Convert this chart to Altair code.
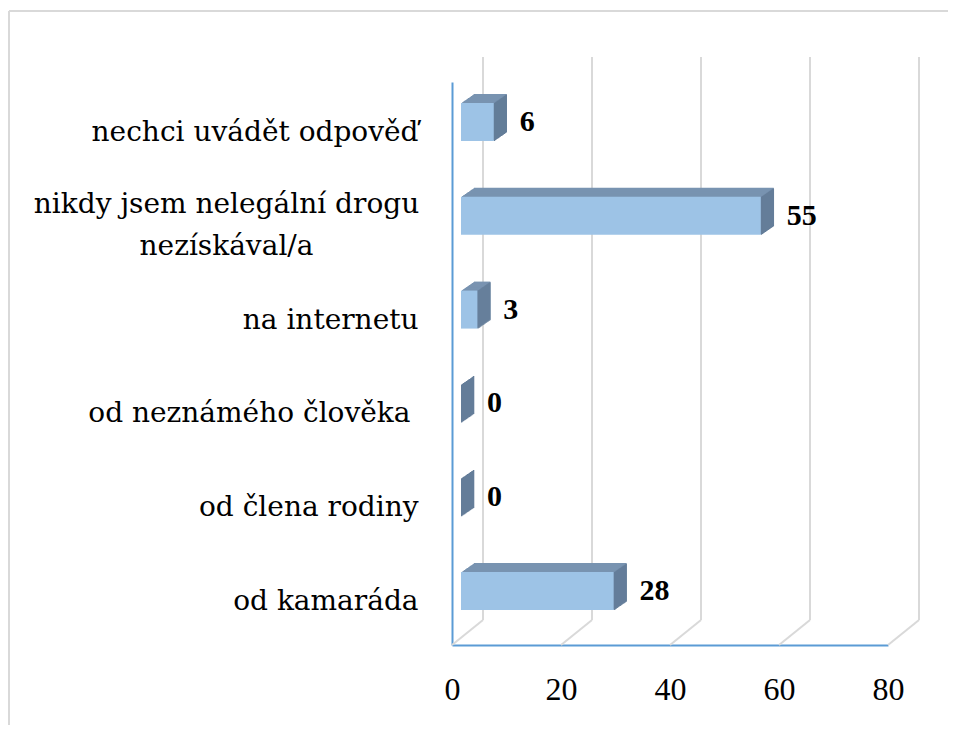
import altair as alt
import pandas as pd

categories = [
    "nechci uvádět odpověď",
    "nikdy jsem nelegální drogu|nezískával/a",
    "na internetu",
    "od neznámého člověka ",
    "od člena rodiny",
    "od kamaráda",
]
values = [6, 55, 3, 0, 0, 28]
ticks = [0, 20, 40, 60, 80]

df = pd.DataFrame({"cat": categories, "value": values})
tick_df = pd.DataFrame({"t": ticks})

W, H = 436, 563
DXB, DYB = 31, -25          # back wall offset
BDX, BDY = 9, -7            # bar plane offset
DEPX, DEPY, STEPS = 13, 9, 13

FRONT = "#9DC3E6"
TOP = "#7993B1"
SIDE = "#647D99"
GRID = "#D9D9D9"
AXIS = "#5B9BD5"

xscale = alt.Scale(domain=[0, 80], nice=False, zero=True)
yscale = alt.Scale(domain=categories, paddingInner=0, paddingOuter=0)

MULTI = "indexof(datum.value, '|') >= 0"
TRAIL = "indexof(datum.value, 'neznámého') >= 0"

XAXIS = alt.Axis(values=ticks, grid=False, ticks=False, domainColor=AXIS, domainWidth=2,
                 labelFont="Liberation Serif", labelFontSize=32, labelColor="black",
                 labelPadding=29, labelFlush=False, labelOverlap=False, title=None)
YAXIS = alt.Axis(grid=False, ticks=False, domainColor=AXIS, domainWidth=2,
                 labelFont="DejaVu Serif", labelFontSize=28, labelColor="black",
                 labelLimit=600, labelLineHeight=42,
                 labelAlign={"condition": {"test": MULTI, "value": "center"}, "value": "right"},
                 labelPadding={"condition": [{"test": MULTI, "value": 226},
                                             {"test": TRAIL, "value": 42}], "value": 34},
                 labelOffset={"condition": {"test": MULTI, "value": -18}, "value": 4},
                 labelExpr="split(datum.label, '|')", title=None)

def y_enc():
    return alt.Y("cat:N", scale=yscale, sort=categories, title=None, axis=YAXIS)

def x_enc(field):
    return alt.X(field, scale=xscale, title=None, axis=XAXIS)

base = alt.Chart(df)

# back wall grid lines
grid = alt.Chart(tick_df).mark_rule(color=GRID, strokeWidth=2, xOffset=DXB, x2Offset=DXB,
                                    yOffset=DYB, y2Offset=DYB).encode(
    x=x_enc("t:Q"),
    y=alt.value(0), y2=alt.value(H))
# floor diagonals
diag = alt.Chart(tick_df).mark_rule(color=GRID, strokeWidth=2, x2Offset=DXB, y2Offset=DYB).encode(
    x=x_enc("t:Q"),
    x2=alt.X2("t:Q"),
    y=alt.value(H), y2=alt.value(H))

layers = [grid, diag]

# top faces (extrusion copies)
for i in range(STEPS, 0, -1):
    ox = BDX + i * DEPX / STEPS
    oy = BDY - i * DEPY / STEPS
    layers.append(base.mark_bar(color=TOP, size=38, xOffset=ox, x2Offset=ox,
                                yOffset=oy, y2Offset=oy).encode(
        x=x_enc("value:Q"), y=y_enc()))

# side faces (1px strips)
for i in range(0, STEPS):
    ox = BDX + i * DEPX / STEPS
    oy = BDY - i * DEPY / STEPS
    layers.append(base.mark_bar(color=SIDE, size=38, xOffset=ox, x2Offset=ox + DEPX / STEPS + 0.3,
                                yOffset=oy, y2Offset=oy).encode(
        x=x_enc("value:Q"), x2=alt.X2("value:Q"), y=y_enc()))

# front faces
front = base.mark_bar(color=FRONT, size=38, xOffset=BDX, x2Offset=BDX,
                      yOffset=BDY, y2Offset=BDY).encode(
    x=x_enc("value:Q"), y=y_enc())
layers.append(front)

labels = base.mark_text(align="left", baseline="middle", font="Liberation Serif",
                        fontWeight="bold", fontSize=30, color="black",
                        dx=BDX + DEPX + 13, dy=BDY).encode(
    x=x_enc("value:Q"), y=y_enc(),
    text=alt.Text("value:Q"))
layers.append(labels)

# chart frame (decorative)
frame_top = alt.Chart(tick_df).mark_rule(color=GRID, strokeWidth=1.5).encode(
    x=alt.value(-443), x2=alt.value(W + 80), y=alt.value(-71))
frame_left = alt.Chart(tick_df).mark_rule(color=GRID, strokeWidth=1.5).encode(
    x=alt.value(-443), y=alt.value(-71), y2=alt.value(H + 100))
layers = [frame_top, frame_left] + layers

chart = alt.layer(*layers).properties(
    width=W, height=H, autosize="none",
    padding={"left": 444, "top": 74, "right": 60, "bottom": 80},
    background="white",
).configure_view(stroke=None)

chart.save("out.html", embed_options={"renderer": "svg", "actions": False})
